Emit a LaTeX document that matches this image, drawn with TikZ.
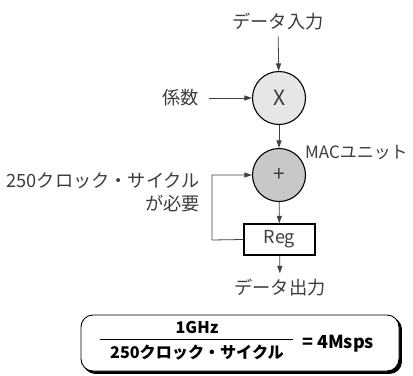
\documentclass[tikz,border=0pt]{standalone}
\usepackage{fontspec}
\setmainfont{Noto Sans CJK JP}
\usetikzlibrary{arrows.meta}
\definecolor{ink}{HTML}{3C3C3C}
\definecolor{line}{HTML}{404040}
\definecolor{mulfill}{HTML}{E6E6E6}
\definecolor{addfill}{HTML}{C8C8C8}
\tikzset{
  lbl/.style={font=\fontsize{18.3}{22.5}\selectfont, text=ink, inner sep=2bp},
  op/.style={circle, draw=black, line width=1.1bp, minimum size=53bp, inner sep=0pt,
             font=\fontsize{21}{21}\selectfont, text=ink},
  regbox/.style={draw=black, line width=1.4bp, fill=white, minimum width=71bp,
                 minimum height=31bp, inner sep=0pt, font=\fontsize{18}{20}\selectfont, text=ink},
  arr/.style={draw=line, line width=0.8bp, -{Triangle[length=7.5bp,width=5bp]}},
  eqbox/.style={draw=black, line width=0.9bp, fill=white, rounded corners=12bp,
                minimum width=318bp, minimum height=56bp, inner sep=0pt},
  eqtext/.style={font=\fontsize{16.2}{18}\selectfont\bfseries, text=black, inner sep=0pt}
}
\begin{document}
\begin{tikzpicture}[x=1bp, y=-1bp]
\useasboundingbox (0,0) rectangle (413,376);

% datapath
\node[lbl] (in) at (278,21) {データ入力};
\node[op, fill=mulfill] (mul) at (279,98) {X};
\node[lbl] (coef) at (181,98) {係数};
\node[op, fill=addfill] (add) at (279,175) {+};
\node[lbl, anchor=west, inner sep=0pt, font=\fontsize{17}{20}\selectfont] (mac) at (305,153) {MACユニット};
\node[regbox] (reg) at (279.5,239.5) {Reg};
\node[lbl] (out) at (280,287) {データ出力};
\node[lbl, align=right, anchor=east] (cyc) at (202,192.5)
  {250クロック・サイクル\\が必要};

\draw[arr, shorten <=5bp] (in) -- (mul);
\draw[arr, shorten <=8bp] (coef) -- (mul);
\draw[arr] (mul) -- (add);
\draw[arr] (add) -- (reg);
\draw[arr, shorten >=3bp] (reg) -- (out);

% feedback path through the register
\coordinate (fb) at (212,240);
\draw[arr] (reg.west) -- (fb) |- (add.west);

% throughput formula
\node[eqbox, fill=black] (shadow) at (242.5,345.5) {};
\node[eqbox] (eq) at (240,343) {};
\node[eqtext] (num) at (197,327) {1GHz};
\node[eqtext] (den) at (197,353) {250クロック・サイクル};
\node[eqtext, anchor=west, font=\fontsize{18}{20}\selectfont\bfseries] (res) at (302,344) {= 4Msps};
\draw[line width=0.8bp] (100,339) -- (293,339);
\end{tikzpicture}
\end{document}
